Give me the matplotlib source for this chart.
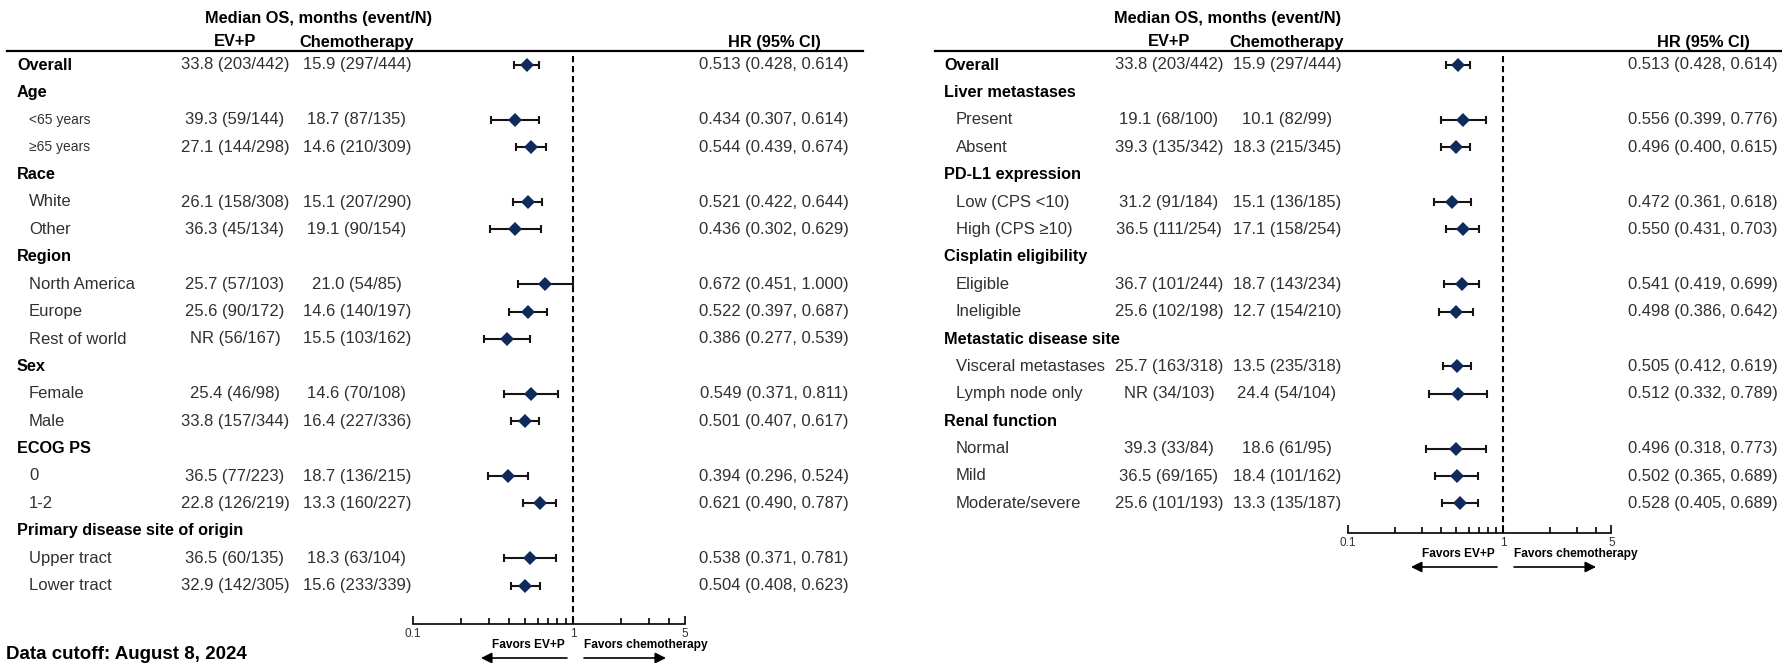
import matplotlib
matplotlib.use("Agg")
import matplotlib.pyplot as plt
import numpy as np

W, H, DPI = 1783, 663, 100
plt.rcParams['font.family'] = ['Liberation Sans', 'DejaVu Sans']

# ---------------- left panel data ----------------
left_labels = ["Overall", "Age", "<65 years", "≥65 years", "Race", "White", "Other",
               "Region", "North America", "Europe", "Rest of world", "Sex", "Female",
               "Male", "ECOG PS", "0", "1-2", "Primary disease site of origin",
               "Upper tract", "Lower tract"]
left_group = [1, 1, 0, 0, 1, 0, 0, 1, 0, 0, 0, 1, 0, 0, 1, 0, 0, 1, 0, 0]
left_small = [0, 0, 1, 1, 0, 0, 0, 0, 0, 0, 0, 0, 0, 0, 0, 0, 0, 0, 0, 0]
left_evp = ["33.8 (203/442)", "", "39.3 (59/144)", "27.1 (144/298)", "", "26.1 (158/308)",
            "36.3 (45/134)", "", "25.7 (57/103)", "25.6 (90/172)", "NR (56/167)", "",
            "25.4 (46/98)", "33.8 (157/344)", "", "36.5 (77/223)", "22.8 (126/219)", "",
            "36.5 (60/135)", "32.9 (142/305)"]
left_chemo = ["15.9 (297/444)", "", "18.7 (87/135)", "14.6 (210/309)", "", "15.1 (207/290)",
              "19.1 (90/154)", "", "21.0 (54/85)", "14.6 (140/197)", "15.5 (103/162)", "",
              "14.6 (70/108)", "16.4 (227/336)", "", "18.7 (136/215)", "13.3 (160/227)", "",
              "18.3 (63/104)", "15.6 (233/339)"]
left_hr = [0.513, None, 0.434, 0.544, None, 0.521, 0.436, None, 0.672, 0.522, 0.386, None,
           0.549, 0.501, None, 0.394, 0.621, None, 0.538, 0.504]
left_lo = [0.428, None, 0.307, 0.439, None, 0.422, 0.302, None, 0.451, 0.397, 0.277, None,
           0.371, 0.407, None, 0.296, 0.490, None, 0.371, 0.408]
left_hi = [0.614, None, 0.614, 0.674, None, 0.644, 0.629, None, 1.000, 0.687, 0.539, None,
           0.811, 0.617, None, 0.524, 0.787, None, 0.781, 0.623]

# ---------------- right panel data ----------------
right_labels = ["Overall", "Liver metastases", "Present", "Absent", "PD-L1 expression",
                "Low (CPS <10)", "High (CPS ≥10)", "Cisplatin eligibility", "Eligible",
                "Ineligible", "Metastatic disease site", "Visceral metastases",
                "Lymph node only", "Renal function", "Normal", "Mild", "Moderate/severe"]
right_group = [1, 1, 0, 0, 1, 0, 0, 1, 0, 0, 1, 0, 0, 1, 0, 0, 0]
right_small = [0] * 17
right_evp = ["33.8 (203/442)", "", "19.1 (68/100)", "39.3 (135/342)", "", "31.2 (91/184)",
             "36.5 (111/254)", "", "36.7 (101/244)", "25.6 (102/198)", "", "25.7 (163/318)",
             "NR (34/103)", "", "39.3 (33/84)", "36.5 (69/165)", "25.6 (101/193)"]
right_chemo = ["15.9 (297/444)", "", "10.1 (82/99)", "18.3 (215/345)", "", "15.1 (136/185)",
               "17.1 (158/254)", "", "18.7 (143/234)", "12.7 (154/210)", "", "13.5 (235/318)",
               "24.4 (54/104)", "", "18.6 (61/95)", "18.4 (101/162)", "13.3 (135/187)"]
right_hr = [0.513, None, 0.556, 0.496, None, 0.472, 0.550, None, 0.541, 0.498, None, 0.505,
            0.512, None, 0.496, 0.502, 0.528]
right_lo = [0.428, None, 0.399, 0.400, None, 0.361, 0.431, None, 0.419, 0.386, None, 0.412,
            0.332, None, 0.318, 0.365, 0.405]
right_hi = [0.614, None, 0.776, 0.615, None, 0.618, 0.703, None, 0.699, 0.642, None, 0.619,
            0.789, None, 0.773, 0.689, 0.689]

x_ticks = [0.1, 1, 5]
x_tick_labels = ["0.1", "1", "5"]
x_minor = [0.2, 0.3, 0.4, 0.5, 0.6, 0.7, 0.8, 0.9, 2, 3, 4]

NAVY = "#0e2b5c"
VAL_C = "#303030"

fig = plt.figure(figsize=(W / DPI, H / DPI), dpi=DPI)
fig.patch.set_facecolor("white")


def fx(x):
    return x / W


def fy(y):
    return 1 - y / H


def ftext(x, y, s, **kw):
    fig.text(fx(x), fy(y), s, **kw)


ROW0, ROWH = 65, 27.4


def panel(labels, group, small, evp, chemo, hr, lo, hi, lay):
    # column headers
    ftext(lay["med_c"], 18, "Median OS, months (event/N)", ha="center", va="center",
          fontsize=11.8, fontweight="bold")
    ftext(lay["evp_c"], 42, "EV+P", ha="center", va="center", fontsize=11.8, fontweight="bold")
    ftext(lay["chemo_c"], 42, "Chemotherapy", ha="center", va="center", fontsize=11.8,
          fontweight="bold")
    ftext(lay["hr_c"], 42, "HR (95% CI)", ha="center", va="center", fontsize=11.8,
          fontweight="bold")
    fig.add_artist(plt.Line2D([fx(lay["line0"]), fx(lay["line1"])], [fy(51), fy(51)],
                              color="black", lw=1.6))

    ys = [ROW0 + i * ROWH for i in range(len(labels))]
    for i, y in enumerate(ys):
        if group[i]:
            ftext(lay["grp_x"], y, labels[i], ha="left", va="center", fontsize=11.7,
                  fontweight="bold", color="black")
        else:
            ftext(lay["sub_x"], y, labels[i], ha="left", va="center",
                  fontsize=10 if small[i] else 12, color=VAL_C)
        if evp[i]:
            ftext(lay["evp_c"], y, evp[i], ha="center", va="center", fontsize=12, color=VAL_C)
            ftext(lay["chemo_c"], y, chemo[i], ha="center", va="center", fontsize=12,
                  color=VAL_C)
        if hr[i] is not None:
            ftext(lay["hr_c"], y, f"{hr[i]:.3f} ({lo[i]:.3f}, {hi[i]:.3f})", ha="center",
                  va="center", fontsize=12, color=VAL_C)

    # forest plot axes on a log scale, y in pixel rows
    x01, dec = lay["x01"], lay["dec"]
    x5 = x01 + dec * np.log10(50)
    ax = fig.add_axes([fx(x01), 0, fx(x5) - fx(x01), 1])
    ax.set_xscale("log")
    ax.set_xlim(0.1, 5)
    ax.set_ylim(H, 0)
    ax.patch.set_visible(False)
    for s in ("top", "left", "right"):
        ax.spines[s].set_visible(False)
    ax.spines["bottom"].set_position(("data", lay["axis_y"]))
    ax.spines["bottom"].set_linewidth(1.2)
    ax.set_yticks([])
    ax.set_xticks(x_ticks)
    ax.set_xticklabels(x_tick_labels)
    ax.set_xticks(x_minor, minor=True)
    ax.set_xticklabels([], minor=True)
    ax.tick_params(axis="x", which="major", direction="in", length=6, width=1.2,
                   labelsize=8.5, pad=3, labelcolor="#303030")
    ax.tick_params(axis="x", which="minor", direction="in", length=4.5, width=1.2)

    ax.plot([1, 1], [56, lay["axis_y"]], color="black", lw=1.5, dashes=[3, 1.8])

    idx = [i for i in range(len(hr)) if hr[i] is not None]
    h = np.array([hr[i] for i in idx])
    l = np.array([lo[i] for i in idx])
    u = np.array([hi[i] for i in idx])
    yy = np.array([ys[i] for i in idx])
    ax.errorbar(h, yy, xerr=[h - l, u - h], fmt="none", ecolor="#151515", elinewidth=1.5,
                capsize=3, capthick=1.5, zorder=3)
    ax.plot(h, yy, "D", color=NAVY, markersize=7, zorder=4, markeredgewidth=0)

    # direction labels and arrows
    x1 = x01 + dec
    fy_lab = lay["axis_y"] + 21
    fy_arr = lay["axis_y"] + 34
    ftext(x1 - 8, fy_lab, "Favors EV+P", ha="right", va="center", fontsize=8.6,
          fontweight="bold")
    ftext(x1 + 11, fy_lab, "Favors chemotherapy", ha="left", va="center", fontsize=8.6,
          fontweight="bold")
    arrow = dict(arrowstyle="-|>", lw=1.2, color="black", mutation_scale=16,
                 shrinkA=0, shrinkB=0)
    fig.add_artist(matplotlib.patches.FancyArrowPatch(
        (fx(x1 - 6), fy(fy_arr)), (fx(x1 - 92), fy(fy_arr)), transform=fig.transFigure,
        **arrow))
    fig.add_artist(matplotlib.patches.FancyArrowPatch(
        (fx(x1 + 11), fy(fy_arr)), (fx(x1 + 93), fy(fy_arr)), transform=fig.transFigure,
        **arrow))


left_layout = dict(grp_x=17, sub_x=29, evp_c=235, chemo_c=357, hr_c=774, med_c=319,
                   line0=7, line1=863, x01=413, dec=160, axis_y=624)
right_layout = dict(grp_x=944, sub_x=956, evp_c=1169, chemo_c=1287, hr_c=1703, med_c=1228,
                    line0=935, line1=1783, x01=1348, dec=155, axis_y=533)

panel(left_labels, left_group, left_small, left_evp, left_chemo, left_hr, left_lo, left_hi,
      left_layout)
panel(right_labels, right_group, right_small, right_evp, right_chemo, right_hr, right_lo,
      right_hi, right_layout)

ftext(6, 659, "Data cutoff: August 8, 2024", ha="left", va="baseline", fontsize=13.5,
      fontweight="bold")

fig.savefig("out.png", dpi=DPI, facecolor="white")
